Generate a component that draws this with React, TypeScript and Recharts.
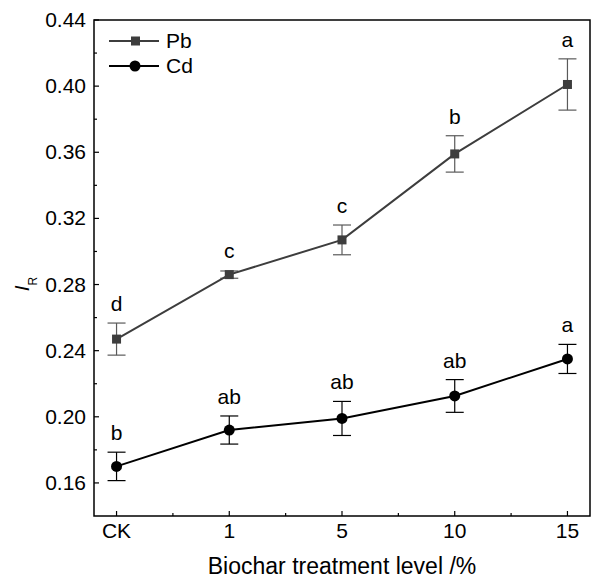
import { LineChart, Line, XAxis, YAxis, ErrorBar, LabelList, Legend, ReferenceArea } from 'recharts';

const levels = ['CK', '1', '5', '10', '15'];
const pbMean = [0.247, 0.286, 0.307, 0.359, 0.401];
const pbErr = [0.0097, 0.0022, 0.009, 0.011, 0.0155];
const pbLetters = ['d', 'c', 'c', 'b', 'a'];
const cdMean = [0.17, 0.192, 0.199, 0.2126, 0.235];
const cdErr = [0.0086, 0.0085, 0.0103, 0.0099, 0.0088];
const cdLetters = ['b', 'ab', 'ab', 'ab', 'a'];

const xTicks = [0, 0.5, 1, 1.5, 2, 2.5, 3, 3.5, 4];
const yTicks = [0.16, 0.18, 0.2, 0.22, 0.24, 0.26, 0.28, 0.3, 0.32, 0.34, 0.36, 0.38, 0.4, 0.42, 0.44];
const yMajor = [0.16, 0.2, 0.24, 0.28, 0.32, 0.36, 0.4, 0.44];

const data = levels.map((level, i) => ({
    x: i,
    level,
    pb: pbMean[i],
    pbErr: pbErr[i],
    pbTop: pbMean[i] + Math.max(pbErr[i], 0.003),
    pbLetter: pbLetters[i],
    cd: cdMean[i],
    cdErr: cdErr[i],
    cdTop: cdMean[i] + cdErr[i],
    cdLetter: cdLetters[i],
}));

const FONT = 'Arial, "Liberation Sans", sans-serif';
const PB_COLOR = '#3d3d3d';
const FS = 21;

const isMajorY = (v: number) => yMajor.some((m) => Math.abs(m - v) < 1e-6);

function BottomTick(props: any) {
    const { x, y, payload } = props;
    const major = Number.isInteger(payload.value);
    return (
        <g>
            <line x1={x} x2={x} y1={y} y2={y - (major ? 5 : 3)} stroke="#000" strokeWidth={1.2} />
            {major && (
                <text x={x} y={y + 22} textAnchor="middle" fontSize={FS} fontFamily={FONT} fill="#000">
                    {levels[payload.value]}
                </text>
            )}
        </g>
    );
}

function TopTick(props: any) {
    const { x, y, payload } = props;
    const major = Number.isInteger(payload.value);
    return <line x1={x} x2={x} y1={y} y2={y + (major ? 5 : 3)} stroke="#000" strokeWidth={1.2} />;
}

function LeftTick(props: any) {
    const { x, y, payload } = props;
    const major = isMajorY(payload.value);
    return (
        <g>
            <line x1={x} x2={x + (major ? 5 : 3)} y1={y} y2={y} stroke="#000" strokeWidth={1.2} />
            {major && (
                <text x={x - 8} y={y} dy={7} textAnchor="end" fontSize={FS} fontFamily={FONT} fill="#000">
                    {payload.value.toFixed(2)}
                </text>
            )}
        </g>
    );
}

function SquareDot(props: any) {
    const { cx, cy, index } = props;
    return <rect key={`sq-${index}`} x={cx - 4.5} y={cy - 4.5} width={9} height={9} fill={PB_COLOR} />;
}

function CircleDot(props: any) {
    const { cx, cy, index } = props;
    return <circle key={`ci-${index}`} cx={cx} cy={cy} r={5.5} fill="#000" />;
}

function YTitle() {
    return (
        <text transform="translate(29,284) rotate(-90)" textAnchor="middle" fontFamily={FONT} fill="#000">
            <tspan fontSize={21} fontStyle="italic">I</tspan>
            <tspan fontSize={12} dy={8}>R</tspan>
        </text>
    );
}

function renderLegend() {
    return (
        <svg width={110} height={60}>
            <line x1={9} x2={59} y1={16} y2={16} stroke={PB_COLOR} strokeWidth={2} />
            <rect x={31} y={11.5} width={9} height={9} fill={PB_COLOR} />
            <text x={66} y={16} dy={7} fontSize={FS} fontFamily={FONT} fill="#000">Pb</text>
            <line x1={9} x2={59} y1={41} y2={41} stroke="#000" strokeWidth={2} />
            <circle cx={35} cy={41} r={5.5} fill="#000" />
            <text x={66} y={41} dy={7} fontSize={FS} fontFamily={FONT} fill="#000">Cd</text>
        </svg>
    );
}

export default function App() {
    return (
        <div style={{ position: 'absolute', left: 0, top: 0, width: 591, height: 578, background: '#fff' }}>
            <LineChart width={591} height={578} data={data} margin={{ top: 20, right: 1, left: 0, bottom: 0 }}>
                <XAxis
                    xAxisId="bottom"
                    dataKey="x"
                    type="number"
                    domain={[-0.2, 4.2]}
                    ticks={xTicks}
                    interval={0}
                    height={62}
                    axisLine={false}
                    tickLine={false}
                    tickSize={0}
                    tickMargin={0}
                    tick={<BottomTick />}
                    label={{ value: 'Biochar treatment level /%', position: 'insideBottom', offset: 4, fontSize: 23, fontFamily: FONT, fill: '#000' }}
                />
                <XAxis
                    xAxisId="top"
                    orientation="top"
                    dataKey="x"
                    type="number"
                    domain={[-0.2, 4.2]}
                    ticks={xTicks}
                    interval={0}
                    height={0}
                    axisLine={false}
                    tickLine={false}
                    tickSize={0}
                    tickMargin={0}
                    tick={<TopTick />}
                />
                <YAxis
                    type="number"
                    domain={[0.14, 0.44]}
                    ticks={yTicks}
                    interval={0}
                    width={94}
                    axisLine={false}
                    tickLine={false}
                    tickSize={0}
                    tickMargin={0}
                    tick={<LeftTick />}
                    label={{ content: <YTitle /> }}
                />
                <ReferenceArea
                    xAxisId="bottom"
                    x1={-0.2}
                    x2={4.2}
                    y1={0.14}
                    y2={0.44}
                    fill="none"
                    fillOpacity={0}
                    stroke="#000"
                    strokeWidth={1.5}
                    ifOverflow="visible"
                />
                <Legend
                    layout="vertical"
                    align="center"
                    verticalAlign="middle"
                    content={renderLegend}
                    wrapperStyle={{ position: 'absolute', left: 100, top: 25, width: 110, height: 60 }}
                />
                <Line
                    xAxisId="bottom"
                    dataKey="pb"
                    name="Pb"
                    stroke={PB_COLOR}
                    strokeWidth={2}
                    dot={<SquareDot />}
                    activeDot={false}
                    isAnimationActive={false}
                >
                    <ErrorBar dataKey="pbErr" direction="y" width={9} stroke="#5a5a5a" strokeWidth={1.2} isAnimationActive={false} />
                </Line>
                <Line
                    xAxisId="bottom"
                    dataKey="cd"
                    name="Cd"
                    stroke="#000"
                    strokeWidth={2}
                    dot={<CircleDot />}
                    activeDot={false}
                    isAnimationActive={false}
                >
                    <ErrorBar dataKey="cdErr" direction="y" width={9} stroke="#000" strokeWidth={1.2} isAnimationActive={false} />
                </Line>
                <Line xAxisId="bottom" dataKey="pbTop" stroke="none" dot={false} activeDot={false} legendType="none" isAnimationActive={false}>
                    <LabelList dataKey="pbLetter" position="top" offset={12} fontSize={FS} fontFamily={FONT} fill="#000" />
                </Line>
                <Line xAxisId="bottom" dataKey="cdTop" stroke="none" dot={false} activeDot={false} legendType="none" isAnimationActive={false}>
                    <LabelList dataKey="cdLetter" position="top" offset={12} fontSize={FS} fontFamily={FONT} fill="#000" />
                </Line>
            </LineChart>
        </div>
    );
}
